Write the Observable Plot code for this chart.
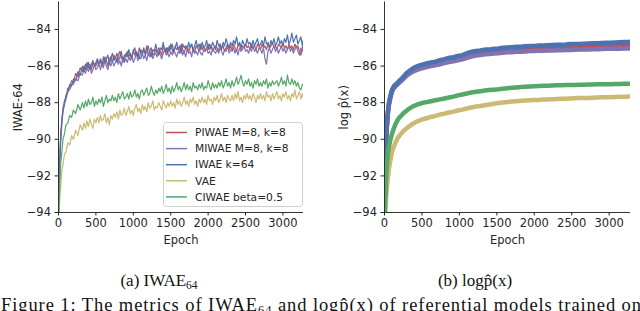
<!DOCTYPE html>
<html><head><meta charset="utf-8">
<script src="https://cdn.jsdelivr.net/npm/d3@7"></script>
<script src="https://cdn.jsdelivr.net/npm/@observablehq/plot@0.6"></script>
<style>
html,body{margin:0;padding:0;background:#fff;}
#wrap{position:relative;width:640px;height:311px;overflow:hidden;background:#fff;}
.panel{position:absolute;top:0;}
#legend{position:absolute;left:163px;top:122px;}
#caps{position:absolute;left:0;top:0;}
</style></head>
<body><div id="wrap"><div id="pa" class="panel" style="left:0"></div><div id="pb" class="panel" style="left:320px"></div><svg id="legend" width="140" height="86"></svg><svg id="caps" width="640" height="311"></svg></div>
<script>
const names = ["PIWAE M=8, k=8", "MIWAE M=8, k=8", "IWAE k=64", "VAE", "CIWAE beta=0.5"];
const colors = ["#C44E52", "#8172B2", "#4C72B0", "#CCB974", "#55A868"];
const xTicks = [0, 500, 1000, 1500, 2000, 2500, 3000];
const yTicks = [-94, -92, -90, -88, -86, -84];

// Panel (a): IWAE-64
const epochsA = [0,10,20,30,45,60,80,100,125,150,175,200,230,260,290,
320,340,360,380,400,420,440,460,480,500,520,540,560,580,600,620,640,660,680,700,
720,740,760,780,800,820,840,860,880,900,920,940,960,980,1000,1020,1040,1060,1080,1100,
1120,1140,1160,1180,1200,1220,1240,1260,1280,1300,1320,1340,1360,1380,1400,1420,1440,1460,1480,1500,
1520,1540,1560,1580,1600,1620,1640,1660,1680,1700,1720,1740,1760,1780,1800,1820,1840,1860,1880,1900,
1920,1940,1960,1980,2000,2020,2040,2060,2080,2100,2120,2140,2160,2180,2200,2220,2240,2260,2280,2300,
2320,2340,2360,2380,2400,2420,2440,2460,2480,2500,2520,2540,2560,2580,2600,2620,2640,2660,2680,2700,
2720,2740,2760,2780,2800,2820,2840,2860,2880,2900,2920,2940,2960,2980,3000,3020,3040,3060,3080,3100,
3120,3140,3160,3180,3200,3220,3240,3260,3270];
const piwaeA = [-94.3,-92.0,-90.6,-89.7,-88.9,-88.3,-87.9,-87.7,-87.2,-87.2,-86.8,-86.9,-86.4,-86.6,-86.1,
-86.3,-86.0,-86.2,-85.8,-86.1,-85.9,-86.2,-85.8,-85.9,-86.0,
-85.7,-86.0,-85.6,-85.8,-85.9,-85.5,-85.7,-86.0,-85.6,-85.5,
-85.8,-85.4,-85.6,-85.3,-85.7,-85.5,-85.2,-85.8,-85.4,-85.5,
-85.2,-85.5,-85.3,-85.6,-85.1,-85.4,-85.2,-85.5,-85.0,-85.3,
-85.4,-85.1,-85.3,-84.9,-85.4,-85.2,-85.0,-85.4,-85.3,-85.1,
-85.3,-85.0,-85.2,-85.4,-84.9,-85.1,-85.3,-85.0,-85.2,-84.8,
-85.1,-85.3,-84.9,-85.1,-85.0,-85.2,-84.8,-85.1,-85.3,-85.0,
-84.9,-85.2,-85.0,-84.8,-85.1,-85.3,-84.9,-85.0,-85.2,-84.8,
-85.1,-84.9,-85.2,-85.0,-84.8,-85.1,-84.9,-85.2,-85.0,-84.9,
-85.0,-85.2,-84.8,-85.0,-84.9,-85.2,-85.0,-84.8,-85.1,-84.9,
-85.1,-84.8,-85.0,-85.2,-84.9,-84.8,-85.1,-84.9,-85.0,-84.8,
-85.0,-84.9,-85.1,-84.8,-85.0,-84.9,-85.1,-84.8,-84.9,-85.1,
-84.8,-85.0,-84.9,-85.1,-84.8,-85.0,-84.9,-84.7,-85.0,-84.9,
-85.1,-84.8,-84.9,-85.0,-84.7,-85.0,-84.9,-85.1,-84.8,-85.0,
-84.9,-85.1,-84.8,-85.0,-84.9,-85.2,-85.4,-85.0,-84.9];
const miwaeA = [-94.4,-92.6,-91.0,-90.1,-89.1,-88.5,-88.0,-87.8,-87.4,-87.3,-87.0,-87.0,-86.7,-86.8,-86.4,
-86.5,-86.2,-86.4,-86.1,-86.3,-86.0,-86.4,-86.2,-85.9,-86.2,
-86.1,-85.8,-86.2,-85.9,-86.1,-85.7,-86.0,-86.2,-85.8,-86.0,
-85.7,-86.0,-85.8,-85.6,-85.9,-85.7,-86.0,-85.5,-85.8,-85.6,
-85.8,-85.5,-85.7,-85.4,-85.8,-85.6,-85.3,-85.7,-85.5,-85.6,
-85.3,-85.6,-85.4,-85.7,-85.3,-85.5,-85.2,-85.6,-85.4,-85.3,
-85.5,-85.2,-85.4,-85.6,-85.3,-85.1,-85.4,-85.3,-85.5,-85.2,
-85.4,-85.1,-85.3,-85.5,-85.2,-85.3,-85.0,-85.4,-85.2,-85.5,
-85.1,-85.3,-85.2,-85.5,-85.0,-85.3,-85.2,-85.4,-85.1,-85.3,
-85.4,-85.1,-85.2,-85.0,-85.3,-85.2,-85.4,-85.0,-85.2,-85.3,
-85.1,-85.3,-85.0,-85.2,-85.4,-85.1,-85.2,-84.9,-85.3,-85.1,
-85.2,-85.0,-85.3,-85.1,-85.4,-85.0,-85.2,-85.1,-84.9,-85.2,
-85.1,-85.3,-85.0,-85.2,-84.9,-85.2,-85.1,-85.3,-85.0,-85.1,
-85.3,-85.0,-85.6,-85.9,-85.2,-85.0,-85.3,-85.1,-84.9,-85.2,
-85.0,-85.3,-85.1,-84.9,-85.2,-85.0,-85.3,-85.1,-84.9,-85.2,
-85.0,-85.3,-85.1,-84.9,-85.2,-85.4,-85.0,-85.2,-85.1];
const iwaeA = [-94.2,-92.3,-90.8,-89.9,-89.0,-88.4,-88.1,-87.6,-87.4,-87.0,-87.1,-86.7,-86.8,-86.3,-86.5,
-86.0,-86.3,-85.9,-86.1,-85.8,-86.2,-85.9,-85.7,-86.0,-85.8,
-85.6,-85.9,-85.7,-86.0,-85.5,-85.8,-85.6,-85.4,-85.9,-85.6,
-85.3,-85.7,-85.5,-85.8,-85.4,-85.2,-85.6,-85.5,-85.7,-85.3,
-85.5,-85.1,-85.4,-85.6,-85.2,-85.0,-85.4,-85.3,-85.6,-85.1,
-85.3,-85.0,-85.4,-85.2,-84.9,-85.3,-85.5,-85.1,-85.2,-84.8,
-85.2,-85.4,-85.0,-85.1,-84.7,-85.2,-85.0,-85.3,-84.9,-85.1,
-84.8,-85.2,-85.0,-84.7,-85.1,-84.9,-85.3,-84.8,-85.0,-84.9,
-85.1,-84.7,-85.0,-84.8,-85.2,-84.9,-84.6,-85.0,-84.8,-85.1,
-84.7,-85.0,-84.9,-84.6,-85.1,-84.8,-85.0,-84.7,-84.9,-85.1,
-84.6,-84.9,-84.8,-85.1,-84.7,-84.9,-84.5,-84.8,-85.0,-84.7,
-84.9,-84.6,-84.8,-84.4,-84.9,-84.7,-85.0,-84.6,-84.8,-84.9,
-84.5,-84.8,-84.7,-85.0,-84.6,-84.9,-84.7,-84.5,-84.9,-84.8,
-84.6,-84.9,-84.4,-84.8,-84.7,-85.0,-84.6,-84.8,-84.5,-84.9,
-84.7,-84.4,-84.8,-84.6,-84.9,-84.5,-84.7,-84.3,-84.8,-84.6,
-84.2,-84.7,-84.5,-84.3,-84.8,-84.6,-84.4,-84.9,-84.6];
const vaeA = [-94.7,-93.9,-93.0,-92.5,-91.7,-91.4,-90.8,-90.7,-90.2,-90.3,-89.8,-90.0,-89.5,-89.8,-89.2,
-89.5,-89.1,-89.4,-89.0,-89.3,-88.9,-89.2,-89.4,-88.9,-89.1,
-88.8,-89.1,-88.7,-89.0,-88.9,-88.6,-89.1,-88.8,-89.2,-88.7,
-88.9,-88.6,-88.8,-88.5,-88.9,-88.4,-88.7,-88.6,-88.3,-88.7,
-88.5,-88.2,-88.6,-88.4,-88.7,-88.3,-88.1,-88.5,-88.3,-88.6,
-88.1,-88.4,-88.2,-88.5,-88.0,-88.3,-88.2,-87.9,-88.4,-88.2,
-88.3,-88.0,-88.2,-88.4,-87.9,-88.1,-88.3,-88.0,-88.2,-87.9,
-88.2,-88.0,-88.3,-87.8,-88.1,-87.9,-88.2,-88.0,-87.7,-88.1,
-87.9,-88.2,-87.8,-88.0,-87.7,-88.1,-87.9,-88.2,-87.8,-88.0,
-87.7,-88.0,-87.8,-88.1,-87.6,-87.9,-87.8,-88.1,-87.7,-87.9,
-87.6,-88.0,-87.8,-87.5,-87.9,-87.7,-88.0,-87.6,-87.8,-87.9,
-87.6,-87.9,-87.5,-87.8,-87.4,-87.9,-87.7,-88.0,-87.6,-87.8,
-87.5,-87.8,-87.6,-87.9,-87.5,-87.7,-88.0,-87.6,-87.8,-87.5,
-87.8,-87.6,-87.9,-87.4,-87.7,-87.6,-87.9,-87.5,-87.8,-87.6,
-87.4,-87.8,-87.6,-87.9,-87.5,-87.7,-87.4,-87.8,-87.6,-87.9,
-87.5,-87.7,-87.3,-87.8,-87.6,-87.4,-87.8,-87.5,-87.7];
const ciwaeA = [-94.6,-93.3,-92.2,-91.3,-90.7,-90.0,-89.7,-89.2,-89.1,-88.7,-88.8,-88.4,-88.6,-88.1,-88.4,
-88.0,-88.3,-87.9,-88.2,-87.8,-88.1,-88.0,-87.7,-88.2,-87.9,
-88.1,-87.8,-88.0,-87.7,-88.2,-87.9,-87.6,-88.0,-87.8,-87.9,
-87.6,-87.9,-87.7,-88.0,-87.5,-87.8,-87.6,-87.4,-87.8,-87.7,
-87.5,-87.8,-87.4,-87.7,-87.6,-87.3,-87.7,-87.5,-87.8,-87.4,
-87.3,-87.6,-87.4,-87.2,-87.6,-87.5,-87.1,-87.4,-87.6,-87.3,
-87.5,-87.2,-87.4,-87.1,-87.5,-87.3,-87.0,-87.4,-87.2,-87.5,
-87.1,-87.4,-87.2,-86.9,-87.3,-87.1,-87.4,-87.2,-86.9,-87.3,
-87.0,-87.3,-87.1,-87.4,-86.9,-87.2,-87.1,-87.3,-87.0,-87.2,
-86.9,-87.3,-87.1,-87.2,-86.8,-87.1,-87.3,-86.9,-87.2,-87.0,
-87.2,-86.9,-87.1,-86.8,-87.2,-87.0,-86.7,-87.1,-86.9,-87.2,
-86.8,-87.1,-86.9,-86.6,-87.0,-86.8,-86.5,-86.9,-87.1,-86.8,
-87.0,-86.7,-87.1,-86.9,-87.2,-86.8,-87.0,-86.7,-87.1,-86.9,
-87.1,-86.8,-87.0,-86.7,-87.2,-86.9,-87.1,-86.8,-87.0,-86.9,
-86.8,-87.1,-86.9,-86.6,-87.0,-86.8,-87.1,-86.5,-86.9,-87.0,
-86.7,-87.0,-86.8,-87.1,-86.9,-87.2,-87.3,-87.0,-87.0];

// Panel (b): log p(x)
const epochsB = [0,10,20,30,45,60,80,100,125,150,175,200,230,260,290,320,380,440,500,560,620,680,740,800,860,920,980,1040,1100,1160,1220,1280,1340,1400,1460,1520,1580,1640,1700,1760,1820,1880,1940,2000,2060,2120,2180,2240,2300,2360,2420,2480,2540,2600,2660,2720,2780,2840,2900,2960,3020,3080,3140,3200,3260,3285];
const piwaeB = [-94.5,-92.05,-90.35,-89.35,-88.55,-88.05,-87.65,-87.35,-87.15,-87.05,-86.95,-86.85,-86.74,-86.62,-86.48,-86.38,-86.22,-86.1,-86.02,-85.96,-85.9,-85.86,-85.79,-85.73,-85.66,-85.63,-85.56,-85.52,-85.43,-85.35,-85.3,-85.28,-85.23,-85.22,-85.18,-85.17,-85.13,-85.11,-85.1,-85.08,-85.08,-85.06,-85.04,-85.04,-85.02,-85.01,-85.0,-85.0,-84.99,-84.98,-84.97,-84.96,-84.95,-84.95,-84.94,-84.93,-84.92,-84.91,-84.9,-84.9,-84.89,-84.88,-84.87,-84.86,-84.86,-84.85];
const miwaeB = [-94.5,-92.1,-90.4,-89.4,-88.6,-88.1,-87.7,-87.4,-87.2,-87.1,-87.0,-86.9,-86.8,-86.68,-86.55,-86.45,-86.3,-86.2,-86.12,-86.06,-86.0,-85.96,-85.9,-85.84,-85.78,-85.74,-85.68,-85.63,-85.55,-85.48,-85.43,-85.4,-85.36,-85.34,-85.31,-85.3,-85.27,-85.25,-85.24,-85.22,-85.22,-85.2,-85.18,-85.18,-85.17,-85.16,-85.15,-85.15,-85.14,-85.13,-85.12,-85.12,-85.11,-85.1,-85.1,-85.09,-85.08,-85.08,-85.07,-85.06,-85.06,-85.05,-85.05,-85.04,-85.04,-85.03];
const iwaeB = [-94.5,-92.0,-90.3,-89.3,-88.5,-88.0,-87.6,-87.3,-87.1,-87.0,-86.9,-86.8,-86.68,-86.55,-86.4,-86.3,-86.12,-86.0,-85.92,-85.86,-85.8,-85.76,-85.68,-85.62,-85.55,-85.52,-85.45,-85.4,-85.3,-85.22,-85.17,-85.15,-85.1,-85.1,-85.05,-85.04,-85.0,-84.98,-84.97,-84.95,-84.95,-84.92,-84.9,-84.9,-84.88,-84.87,-84.86,-84.85,-84.84,-84.83,-84.82,-84.8,-84.8,-84.79,-84.78,-84.77,-84.76,-84.75,-84.74,-84.73,-84.72,-84.71,-84.7,-84.69,-84.68,-84.67];
const vaeB = [-94.8,-94.0,-93.3,-92.7,-92.1,-91.6,-91.1,-90.7,-90.4,-90.15,-89.95,-89.8,-89.65,-89.52,-89.42,-89.32,-89.15,-89.02,-88.92,-88.85,-88.78,-88.72,-88.65,-88.6,-88.54,-88.49,-88.43,-88.38,-88.32,-88.26,-88.21,-88.18,-88.14,-88.1,-88.06,-88.02,-87.99,-87.96,-87.94,-87.92,-87.9,-87.88,-87.87,-87.86,-87.85,-87.83,-87.82,-87.81,-87.8,-87.79,-87.78,-87.77,-87.76,-87.75,-87.74,-87.74,-87.73,-87.72,-87.71,-87.71,-87.7,-87.69,-87.68,-87.67,-87.66,-87.66];
const ciwaeB = [-94.6,-93.2,-92.2,-91.5,-90.8,-90.4,-90.0,-89.7,-89.4,-89.15,-88.95,-88.8,-88.68,-88.55,-88.45,-88.35,-88.2,-88.1,-88.02,-87.97,-87.92,-87.87,-87.82,-87.77,-87.72,-87.67,-87.6,-87.55,-87.5,-87.44,-87.4,-87.37,-87.34,-87.31,-87.29,-87.27,-87.24,-87.21,-87.19,-87.17,-87.15,-87.13,-87.11,-87.1,-87.09,-87.08,-87.07,-87.06,-87.05,-87.05,-87.04,-87.03,-87.03,-87.02,-87.02,-87.01,-87.01,-87.0,-87.0,-86.99,-86.99,-86.98,-86.98,-86.97,-86.97,-86.97];

const ink = "#262626";
function panel(epochs, arrays, o) {
  const data = [];
  names.forEach((n, i) => arrays[i].forEach((v, j) => data.push({epoch: epochs[j], value: v, series: n})));
  return Plot.plot({
    width: 320, height: 250,
    marginLeft: o.ml, marginRight: o.mr, marginTop: 1.5, marginBottom: 38,
    style: {fontFamily: "DejaVu Sans", fontSize: "11.5px", color: ink, background: "transparent"},
    x: {domain: [0, o.xmax]},
    y: {domain: [-94, -82.5]},
    color: {domain: names, range: colors},
    marks: [
      Plot.line(data, {x: "epoch", y: "value", z: "series", stroke: "series", strokeWidth: o.sw, clip: true}),
      Plot.ruleX([0], {stroke: "#333", strokeWidth: 1}),
      Plot.ruleY([-94], {stroke: "#333", strokeWidth: 1}),
      Plot.axisX({ticks: xTicks, tickSize: 3.5, tickPadding: 2.5, tickFormat: d3.format("d"), label: "Epoch", labelAnchor: "center", labelArrow: "none", labelOffset: 31}),
      Plot.axisY({ticks: yTicks, tickSize: 3.5, tickPadding: 4, tickFormat: d3.format("d"), label: o.ylabel, labelAnchor: "center", labelArrow: "none", labelOffset: o.lo})
    ]
  });
}

document.getElementById("pa").append(panel(epochsA, [piwaeA, miwaeA, iwaeA, vaeA, ciwaeA], {ml: 58, mr: 17, xmax: 3275, sw: 1.2, ylabel: "IWAE-64", lo: 45}));
document.getElementById("pb").append(panel(epochsB, [piwaeB, miwaeB, iwaeB, vaeB, ciwaeB], {ml: 64, mr: 10, xmax: 3285, sw: 4.5, ylabel: "log p\u0302(x)", lo: 45}));

// legend
const lg = d3.select("#legend");
lg.append("rect").attr("x", 0.5).attr("y", 0.5).attr("width", 139).attr("height", 84).attr("rx", 3)
  .attr("fill", "rgba(255,255,255,0.85)").attr("stroke", "#d0d0d0");
names.forEach((n, i) => {
  const cy = 10.5 + i * 16.1;
  lg.append("line").attr("x1", 3).attr("x2", 24).attr("y1", cy).attr("y2", cy).attr("stroke", colors[i]).attr("stroke-width", 1.5);
  lg.append("text").attr("x", 32).attr("y", cy).attr("dy", "0.35em").attr("font-family", "DejaVu Sans").attr("font-size", 10.7).attr("fill", ink).text(n);
});

// captions
const caps = d3.select("#caps");
const serif = "'Liberation Serif', 'DejaVu Serif', serif";
const ca = caps.append("text").attr("x", 159).attr("y", 286).attr("text-anchor", "middle").attr("font-family", serif).attr("font-size", 17).attr("fill", "#111");
ca.append("tspan").text("(a) IWAE");
ca.append("tspan").attr("font-size", 11.5).attr("dy", 3).text("64");
caps.append("text").attr("x", 475).attr("y", 286).attr("text-anchor", "middle").attr("font-family", serif).attr("font-size", 17).attr("fill", "#111").text("(b) logp\u0302(x)");
const cf = caps.append("text").attr("x", 1).attr("y", 311).attr("font-family", serif).attr("font-size", 18.5).attr("fill", "#111")
  .attr("textLength", 640).attr("lengthAdjust", "spacing");
cf.append("tspan").text("Figure 1: The metrics of IWAE");
cf.append("tspan").attr("font-size", 12.5).attr("dy", 3).text("64");
cf.append("tspan").attr("dy", -3).text(" and logp\u0302(x) of referential models trained on");
</script></body></html>
